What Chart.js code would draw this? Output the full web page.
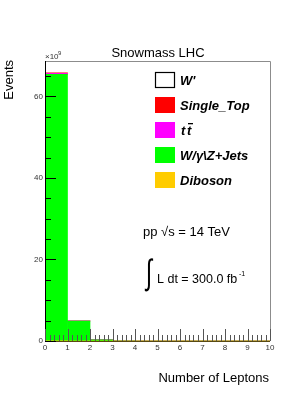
<!DOCTYPE html>
<html>
<head>
<meta charset="utf-8">
<script src="https://cdn.jsdelivr.net/npm/chart.js@4/dist/chart.umd.min.js"></script>
<style>
  html, body { margin: 0; padding: 0; background: #fff; }
  #wrap { width: 307px; height: 398px; }
</style>
</head>
<body>
<div id="wrap"><canvas id="leptonChart" width="307" height="398"></canvas></div>
<script>
// bins of "Number of Leptons" (centres of 0-1, 1-2, ... 9-10), values in units of 1e9 events
const binCenters = [0.5, 1.5, 2.5, 3.5, 4.5, 5.5, 6.5, 7.5, 8.5, 9.5];
const diboson   = [0.05, 0.01, 0, 0, 0, 0, 0, 0, 0, 0];
const wzJets    = [65.4, 4.9, 0.3, 0.03, 0, 0, 0, 0, 0, 0];
const ttbar     = [0.2, 0.01, 0, 0, 0, 0, 0, 0, 0, 0];
const singleTop = [0.15, 0.01, 0, 0, 0, 0, 0, 0, 0, 0];
const wPrime    = [0, 0, 0, 0, 0, 0, 0, 0, 0, 0];
const yTicks = [0, 20, 40, 60];
const xTicks = [0, 1, 2, 3, 4, 5, 6, 7, 8, 9, 10];

const FONT = '"Liberation Sans", Arial, Helvetica, sans-serif';

function pts(vals) {
    return binCenters.map((x, i) => ({ x: x, y: vals[i] }));
}

// legend order as in the picture (top to bottom)
const legendItems = [
    { label: "W'", fill: '#ffffff', border: '#000000' },
    { label: 'Single_Top', fill: '#ff0000' },
    { label: 'tt', fill: '#ff00ff', tt: true },
    { label: 'W/\u03b3\\Z+Jets', fill: '#00ff00' },
    { label: 'Diboson', fill: '#ffcc00' }
];

const rootStyle = {
    id: 'rootStyle',
    afterDraw(chart) {
        const c = chart.ctx, a = chart.chartArea;
        const xs = chart.scales.x, ys = chart.scales.y;
        c.save();
        // frame
        c.strokeStyle = '#8c8c8c';
        c.lineWidth = 1;
        c.beginPath();
        c.moveTo(a.left, a.top + 0.5); c.lineTo(a.right + 0.5, a.top + 0.5);
        c.lineTo(a.right + 0.5, a.bottom);
        c.stroke();
        c.strokeStyle = '#000';
        c.beginPath();
        c.moveTo(a.left + 0.5, a.top); c.lineTo(a.left + 0.5, a.bottom + 0.5);
        c.stroke();
        c.strokeStyle = '#5a4a10';
        c.beginPath();
        c.moveTo(a.left, a.bottom + 0.5); c.lineTo(a.right, a.bottom + 0.5);
        c.stroke();
        // y ticks inside
        c.strokeStyle = '#000';
        c.beginPath();
        for (let v = 0; v <= ys.max; v += 5) {
            const y = Math.round(ys.getPixelForValue(v)) + 0.5;
            const len = (v % 20 === 0) ? 11 : 6;
            c.moveTo(a.left, y); c.lineTo(a.left + len, y);
        }
        c.stroke();
        // x ticks inside
        c.strokeStyle = '#555';
        c.beginPath();
        for (let k = 0; k <= 50; k++) {
            const v = k / 5;
            const x = Math.round(xs.getPixelForValue(v)) + 0.5;
            const len = (k % 5 === 0) ? 12 : 6;
            c.moveTo(x, a.bottom); c.lineTo(x, a.bottom - len);
        }
        c.stroke();

        c.fillStyle = '#000';
        // title
        c.font = '13px ' + FONT;
        c.textAlign = 'center';
        c.textBaseline = 'alphabetic';
        c.fillText('Snowmass LHC', 158, 57);
        // exponent
        c.fillStyle = '#333';
        c.font = '8px ' + FONT;
        c.textAlign = 'left';
        c.fillText('\u00d710', 45, 59);
        c.font = '6px ' + FONT;
        c.fillText('9', 58, 55);
        c.fillStyle = '#000';
        // axis titles
        c.font = '13px ' + FONT;
        c.textAlign = 'right';
        c.fillText('Number of Leptons', 269, 382);
        c.save();
        c.translate(13, 60);
        c.rotate(-Math.PI / 2);
        c.fillText('Events', 0, 0);
        c.restore();

        // legend
        legendItems.forEach((it, i) => {
            const y = 72 + i * 25;
            c.fillStyle = it.fill;
            c.fillRect(155, y, 20, 16);
            if (it.border) {
                c.strokeStyle = it.border;
                c.lineWidth = 1.2;
                c.strokeRect(155.5, y + 0.5, 19, 15);
            }
            c.fillStyle = '#000';
            c.font = 'italic bold 13px ' + FONT;
            c.textAlign = 'left';
            if (it.tt) {
                c.fillText('t', 181, y + 13);
                c.fillText('t', 187, y + 13);
                c.fillRect(188, y + 1, 5, 1.3);
            } else {
                c.fillText(it.label, 180, y + 13);
            }
        });

        // energy and lumi
        c.font = '13px ' + FONT;
        c.textAlign = 'left';
        c.fillText('pp \u221as = 14 TeV', 143, 236);
        c.save();
        c.translate(149, 274);
        c.scale(0.8, 1.25);
        c.font = '28px ' + FONT;
        c.textAlign = 'center';
        c.textBaseline = 'middle';
        c.fillText('\u222b', 0, 0);
        c.restore();
        c.font = '12.5px ' + FONT;
        c.fillText('L dt = 300.0 fb', 157, 283);
        c.font = '7px ' + FONT;
        c.fillText('-1', 239, 276);
        c.restore();
    }
};

const ctx = document.getElementById('leptonChart').getContext('2d');
const leptonChart = new Chart(ctx, {
    type: 'bar',
    data: {
        datasets: [
            { label: 'Diboson', data: pts(diboson), backgroundColor: '#ffcc00' },
            { label: 'W/\u03b3\\Z+Jets', data: pts(wzJets), backgroundColor: '#00ff00' },
            { label: 'tt', data: pts(ttbar), backgroundColor: '#ff00ff' },
            { label: 'Single_Top', data: pts(singleTop), backgroundColor: '#ff0000' },
            { label: "W'", data: pts(wPrime), backgroundColor: '#ffffff' }
        ]
    },
    options: {
        responsive: false,
        animation: false,
        events: [],
        layout: { padding: { top: 61, right: 37, left: 0, bottom: 0 } },
        datasets: { bar: { barPercentage: 1, categoryPercentage: 1, borderWidth: 0 } },
        plugins: { legend: { display: false }, tooltip: { enabled: false }, title: { display: false } },
        scales: {
            x: {
                type: 'linear', stacked: true, min: 0, max: 10, offset: false,
                grid: { display: false, drawTicks: false, tickLength: 0 }, border: { display: false },
                afterBuildTicks: s => { s.ticks = xTicks.map(v => ({ value: v })); },
                afterFit: s => { s.height = 57; },
                ticks: { color: '#333', font: { size: 8, family: FONT }, padding: 2, maxRotation: 0, autoSkip: false }
            },
            y: {
                type: 'linear', stacked: true, min: 0, max: 68.7,
                grid: { display: false, drawTicks: false, tickLength: 0 }, border: { display: false },
                afterBuildTicks: s => { s.ticks = yTicks.map(v => ({ value: v })); },
                afterFit: s => { s.width = 45; },
                ticks: { color: '#333', font: { size: 8, family: FONT }, padding: 2 }
            }
        }
    },
    plugins: [rootStyle]
});
</script>
</body>
</html>
